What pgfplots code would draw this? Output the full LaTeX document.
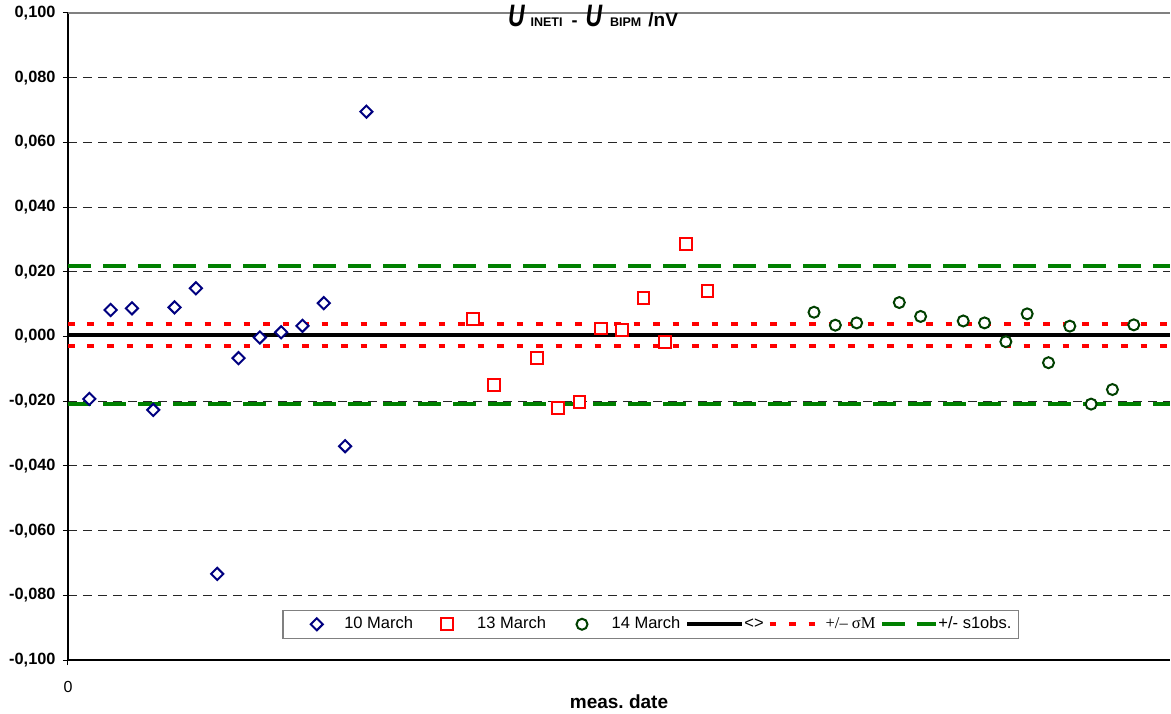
\documentclass[border=0pt]{standalone}
\usepackage{fontspec}
\setmainfont{Liberation Sans}
\newfontfamily\timesfont{Liberation Serif}
\usepackage{graphicx}
\usepackage{pgfplots}
\pgfplotsset{compat=1.18}
\definecolor{navyc}{RGB}{0,0,128}
\definecolor{redc}{RGB}{255,0,0}
\definecolor{greenm}{RGB}{0,64,0}
\definecolor{greenl}{RGB}{0,128,0}
\definecolor{framegray}{RGB}{128,128,128}
\pgfplotsset{
  leA/.style={legend image code/.code={\path[draw=none] (-27pt,0pt) rectangle (27.5pt,0pt); \draw[##1] plot coordinates {(0pt,0pt)};}},
  leB/.style={legend image code/.code={\path[draw=none] (-34.1pt,0pt) rectangle (30.1pt,0pt); \draw[##1] plot coordinates {(0pt,0pt)};}},
  leC/.style={legend image code/.code={\path[draw=none] (-36pt,0pt) rectangle (29.6pt,0pt); \draw[##1] plot coordinates {(0pt,0pt)};}},
  leD/.style={legend image code/.code={\path[draw=none] (0pt,0pt) rectangle (63.6pt,0pt); \draw[##1] (7pt,0pt) -- (62pt,0pt);}},
  leE/.style={legend image code/.code={\path[draw=none] (0pt,0pt) rectangle (62pt,0pt); \draw[##1] (6pt,0pt) -- (52pt,0pt);}},
  leF/.style={legend image code/.code={\path[draw=none] (0pt,0pt) rectangle (62pt,0pt); \draw[##1] (7pt,0pt) -- (61pt,0pt);}},
}
\begin{document}
\begin{tikzpicture}
\useasboundingbox (0,0) rectangle (1171pt,713pt);
\begin{axis}[
  at={(68pt,53pt)}, anchor=south west,
  width=1102pt, height=647pt, scale only axis,
  xmin=0, xmax=51.7, ymin=-0.1, ymax=0.1,
  axis lines=left,
  axis line style={-, line width=1.3pt, black},
  tick align=outside,
  major tick length=5pt,
  tick style={black, line width=1pt},
  ytick={-0.1,-0.08,-0.06,-0.04,-0.02,0,0.02,0.04,0.06,0.08,0.1},
  xtick={0},
  xticklabels={0},
  ymajorgrids,
  major grid style={black!85, line width=1pt, dash pattern=on 9pt off 6pt},
  yticklabel style={font=\fontsize{16.3}{18}\selectfont\bfseries, xshift=-4pt,
    /pgf/number format/.cd, fixed, fixed zerofill, precision=3, use comma, assume math mode=true},
  xticklabel style={font=\fontsize{16}{18}\selectfont, yshift=-13pt},
  xlabel={meas.\ date},
  xlabel style={font=\fontsize{19}{21}\selectfont\bfseries, at={(axis description cs:0.5,0)}, anchor=base, yshift=-48pt},
  title={{\fontsize{31}{33}\selectfont\bfseries\itshape\scalebox{0.74}[1]{U}}\hspace{6pt}{\fontsize{12.5}{14}\selectfont\bfseries INETI}\hspace{9pt}{\fontsize{18}{20}\selectfont\bfseries -}\hspace{8pt}{\fontsize{31}{33}\selectfont\bfseries\itshape\scalebox{0.74}[1]{U}}\hspace{8pt}{\fontsize{12.5}{14}\selectfont\bfseries BIPM}\hspace{7pt}{\fontsize{19}{21}\selectfont\bfseries /nV}},
  title style={at={(axis description cs:0.4764,0.9706)}, anchor=base, inner sep=0pt},
  legend columns=6,
  legend cell align=left,
  legend style={at={(axis description cs:0.1942,0.03246)}, anchor=south west,
    draw=framegray, line width=1.5pt, inner xsep=7pt, inner ysep=2.5pt,
    column sep=0pt,
    font=\fontsize{16.5}{18}\selectfont,
    nodes={inner xsep=0pt, inner ysep=4pt, text height=11.5pt, text depth=3.5pt}},
]
% reference lines
\addplot[forget plot, black, line width=4pt] coordinates {(0,0.0005) (51.7,0.0005)};
\addplot[forget plot, redc, line width=4pt, dash pattern=on 6.7pt off 12.8pt] coordinates {(0,0.0040) (51.7,0.0040)};
\addplot[forget plot, redc, line width=4pt, dash pattern=on 6.7pt off 12.8pt] coordinates {(0,-0.0028) (51.7,-0.0028)};
\addplot[forget plot, greenl, line width=4pt, dash pattern=on 22.7pt off 12.3pt] coordinates {(0,0.0219) (51.7,0.0219)};
\addplot[forget plot, greenl, line width=4pt, dash pattern=on 22.7pt off 12.3pt] coordinates {(0,-0.0210) (51.7,-0.0210)};
% top frame line
\draw[framegray, line width=1.5pt] (rel axis cs:0,1) -- (rel axis cs:1,1);
% 10 March
\addplot[only marks, mark=square*, mark size=4.3pt, mark options={rotate=45, draw=navyc, fill=white, line width=2pt}, leA]
 coordinates {
 (1,-0.0193) (2,0.0082) (3,0.0087) (4,-0.0227) (5,0.0090) (6,0.0149) (7,-0.0734)
 (8,-0.0067) (9,-0.0003) (10,0.0013) (11,0.0033) (12,0.0103) (13,-0.0339) (14,0.0695)
 };
\addlegendentry{10 March}
% 13 March
\addplot[only marks, mark=square*, mark size=5.9pt, mark options={draw=redc, fill=white, line width=2pt}, leB]
 coordinates {
 (19,0.0054) (20,-0.0150) (22,-0.0067) (23,-0.0220) (24,-0.0202) (25,0.0025)
 (26,0.0019) (27,0.0118) (28,-0.0017) (29,0.0285) (30,0.0140)
 };
\addlegendentry{13 March}
% 14 March
\addplot[only marks, mark=*, mark size=5.5pt, mark options={draw=greenm, fill=white, line width=2pt}, leC]
 coordinates {
 (35,0.0075) (36,0.0035) (37,0.0042) (39,0.0105) (40,0.0062) (42,0.0048) (43,0.0042)
 (44,-0.0016) (45,0.0070) (46,-0.0081) (47,0.0032) (48,-0.0209) (49,-0.0164) (50,0.0036)
 };
\addlegendentry{14 March}
\addlegendimage{black, line width=4pt, leD}
\addlegendentry{<>}
\addlegendimage{redc, line width=4pt, dash pattern=on 6.7pt off 12.8pt, leE}
\addlegendentry{{\timesfont +/– σM}}
\addlegendimage{greenl, line width=4pt, dash pattern=on 22.7pt off 12.3pt, leF}
\addlegendentry{+/- s1obs.}
\end{axis}
\end{tikzpicture}
\end{document}
